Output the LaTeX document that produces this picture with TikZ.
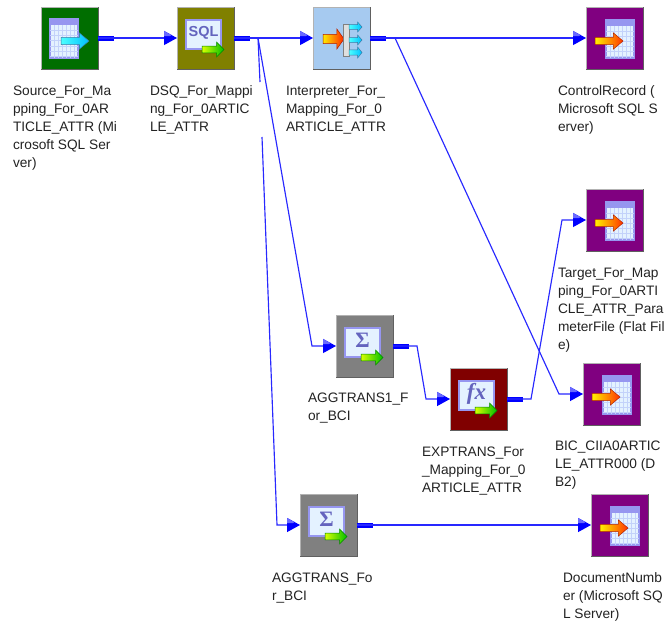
\documentclass[tikz,border=0pt]{standalone}
\usepackage{fontspec}
\setmainfont{Liberation Sans}
\newfontfamily\glyphserif{Liberation Serif}
\usetikzlibrary{arrows.meta,calc}
\definecolor{wireblue}{RGB}{40,40,255}
\definecolor{tipblue}{RGB}{0,0,255}
\definecolor{tiplight}{RGB}{105,105,255}
\definecolor{srcgreen}{RGB}{0,110,0}
\definecolor{dsqolive}{RGB}{128,128,0}
\definecolor{intblue}{RGB}{166,202,240}
\definecolor{tgtpurple}{RGB}{128,0,128}
\definecolor{agggray}{RGB}{128,128,128}
\definecolor{expmaroon}{RGB}{128,0,0}
\definecolor{panelblue}{RGB}{228,242,255}
\definecolor{paneledge}{RGB}{150,150,240}
\definecolor{gridline}{RGB}{195,210,250}
\definecolor{glyphblue}{RGB}{100,100,190}
\definecolor{labeltext}{RGB}{35,35,35}
\tikzset{
  x=1pt,y=-1pt,
  box/.style={minimum width=57pt,minimum height=62pt,inner sep=0pt,outer sep=0pt,draw=gray!60,line width=1pt},
  lab/.style={anchor=north west,inner sep=0pt,outer sep=0pt,align=left,text=labeltext,font=\fontsize{13.7pt}{18pt}\selectfont},
  wire/.style={draw=wireblue,line width=1.15pt,-{Triangle[length=13pt,width=14pt,color=tipblue]}},
  wirepart/.style={draw=wireblue,line width=1.15pt},
  stubline/.style={draw=tipblue,line width=5pt},
}
\newcommand{\rim}[1]{\draw[gray!75!black,line width=1pt] (#1.north east)--(#1.south east)--(#1.south west);}
\newcommand{\tiphi}[1]{\fill[tiplight] ($(#1)+(-13,-7)$)--($(#1)+(-13,-2)$)--($(#1)+(-7,-2)$)--($(#1)+(-5.5,-3)$)--cycle;}
% block arrow: left x, top y, width, height, fill colours
\newcommand{\blockarrow}[6]{%
  \begin{scope}[shift={(#1,#2)}]
  \path[left color=#5,right color=#6,draw=#6!70!black,line width=.5pt]
    (0,#4*.27)--(#3*.66,#4*.27)--(#3*.66,0)--(#3,#4*.5)--(#3*.66,#4)--(#3*.66,#4*.73)--(0,#4*.73)--cycle;
  \end{scope}}
% gridded page: node name, left, top, width, height (relative to the box NW)
\newcommand{\pageicon}[5]{%
  \begin{scope}[shift={(#1.north west)}]
  \fill[panelblue,draw=paneledge,line width=1.2pt] (#2,#3) rectangle (#2+#4,#3+#5);
  \fill[paneledge] (#2,#3) rectangle (#2+#4,#3+6);
  \foreach \q in {1,...,6}{\draw[gridline,line width=.5pt] (#2+\q*#4/7,#3+6)--(#2+\q*#4/7,#3+#5);}
  \foreach \q in {1,...,6}{\draw[gridline,line width=.5pt] (#2,#3+6+\q*#5/7.5)--(#2+#4,#3+6+\q*#5/7.5);}
  \end{scope}}
% formula panel with glyph and green arrow
\newcommand{\panelicon}[2]{%
  \begin{scope}[shift={(#1.north west)}]
  \fill[panelblue,draw=paneledge,line width=1.2pt] (9,13) rectangle (44,42);
  \node[inner sep=0pt,text=glyphblue] at (26.5,25.5) {#2};
  \blockarrow{25}{35}{22}{15}{yellow!85!green}{green!75!black}
  \end{scope}}
\begin{document}
\begin{tikzpicture}
\useasboundingbox (0,0) rectangle (668,625);
\fill[white] (0,0) rectangle (668,625);
% boxes
\node[box,fill=srcgreen]  (src)  at (69.5,38)  {};
\node[box,fill=dsqolive]  (dsq)  at (205.5,38) {};
\node[box,fill=intblue]   (int)  at (341.5,38) {};
\node[box,fill=tgtpurple] (ctl)  at (614.5,38) {};
\node[box,fill=tgtpurple] (tgt)  at (614.5,220){};
\node[box,fill=tgtpurple] (bic)  at (611.5,394){};
\node[box,fill=agggray]   (agg1) at (364.5,346){};
\node[box,fill=expmaroon] (exp)  at (478.5,399){};
\node[box,fill=agggray]   (agg)  at (328.5,525){};
\node[box,fill=tgtpurple] (doc)  at (619.5,525){};
\foreach \n in {src,dsq,int,ctl,tgt,bic,agg1,exp,agg,doc}{\rim{\n}}
% icons
\pageicon{src}{9}{12}{28}{39}
\begin{scope}[shift={(src.north west)}]\blockarrow{20}{26}{28}{16}{cyan!70}{cyan!75!blue}\end{scope}
\panelicon{dsq}{\fontsize{14.5pt}{14.5pt}\selectfont\bfseries SQL}
\begin{scope}[shift={(int.north west)}]
\blockarrow{10}{22}{21}{20}{yellow!85!orange}{red!70!orange}
\fill[gray!25,draw=gray,line width=.5pt] (30,17) rectangle (36,49);
\blockarrow{36}{15}{13}{10}{cyan!70}{cyan!75!blue}
\blockarrow{36}{28}{13}{10}{cyan!70}{cyan!75!blue}
\blockarrow{36}{40}{13}{11}{cyan!70}{cyan!75!blue}
\end{scope}
\foreach \n in {ctl,tgt,bic,doc}{
  \pageicon{\n}{20}{13}{28}{38}
  \begin{scope}[shift={(\n.north west)}]\blockarrow{9}{26}{28}{16}{yellow!90!orange}{red!60!orange}\end{scope}
}
\panelicon{agg1}{\fontsize{22pt}{22pt}\selectfont\glyphserif\bfseries Σ}
\panelicon{agg}{\fontsize{22pt}{22pt}\selectfont\glyphserif\bfseries Σ}
\panelicon{exp}{\fontsize{23pt}{23pt}\selectfont\glyphserif\bfseries\itshape fx}
% stubs
\foreach \n in {src,dsq,int,agg1,exp,agg}{\draw[stubline] (\n.east)--++(16,0);}
% bend points
\coordinate (dA) at (258,38);
\coordinate (dB) at (312,346);
\coordinate (gA) at (260,82);
\coordinate (gB) at (262,137);
\coordinate (gC) at (277,525);
\coordinate (iA) at (395,38);
\coordinate (iB) at (559,394);
\coordinate (aA) at (417,346);
\coordinate (aB) at (426,399);
\coordinate (eA) at (531,399);
\coordinate (eB) at (562,220);
% connectors
\draw[wire] (src.east)--(dsq.west);
\draw[wire] (dsq.east)--(int.west);
\draw[wire] (int.east)--(ctl.west);
\draw[wire] (agg.east)--(doc.west);
\draw[wire] (dsq.east)--(dA)--(dB)--(agg1.west);
\draw[wirepart] (dA)--(gA);
\draw[wire] (gB)--(gC)--(agg.west);
\draw[wire] (int.east)--(iA)--(iB)--(bic.west);
\draw[wire] (agg1.east)--(aA)--(aB)--(exp.west);
\draw[wire] (exp.east)--(eA)--(eB)--(tgt.west);
\foreach \n in {dsq,int,ctl,doc,agg1,agg,bic,exp,tgt}{\tiphi{\n.west}}
% labels
\node[lab] (lsrc) at (13,86)  {Source\_For\_Ma\\pping\_For\_0AR\\TICLE\_ATTR (Mi\\crosoft SQL Ser\\ver)};
\node[lab] (ldsq) at (150,86) {DSQ\_For\_Mappi\\ng\_For\_0ARTIC\\LE\_ATTR};
\node[lab] (lint) at (286,86) {Interpreter\_For\_\\Mapping\_For\_0\\ARTICLE\_ATTR};
\node[lab] (lctl) at (558,86) {ControlRecord (\\Microsoft SQL S\\erver)};
\node[lab] (ltgt) at (558,268){Target\_For\_Map\\ping\_For\_0ARTI\\CLE\_ATTR\_Para\\meterFile (Flat Fil\\e)};
\node[lab] (lbic) at (555,441){BIC\_CIIA0ARTIC\\LE\_ATTR000 (D\\B2)};
\node[lab] (lag1) at (308,393){AGGTRANS1\_F\\or\_BCI};
\node[lab] (lexp) at (422,447){EXPTRANS\_For\\\_Mapping\_For\_0\\ARTICLE\_ATTR};
\node[lab] (lagg) at (272,573){AGGTRANS\_Fo\\r\_BCI};
\node[lab] (ldoc) at (563,573){DocumentNumb\\er (Microsoft SQ\\L Server)};
\end{tikzpicture}
\end{document}
